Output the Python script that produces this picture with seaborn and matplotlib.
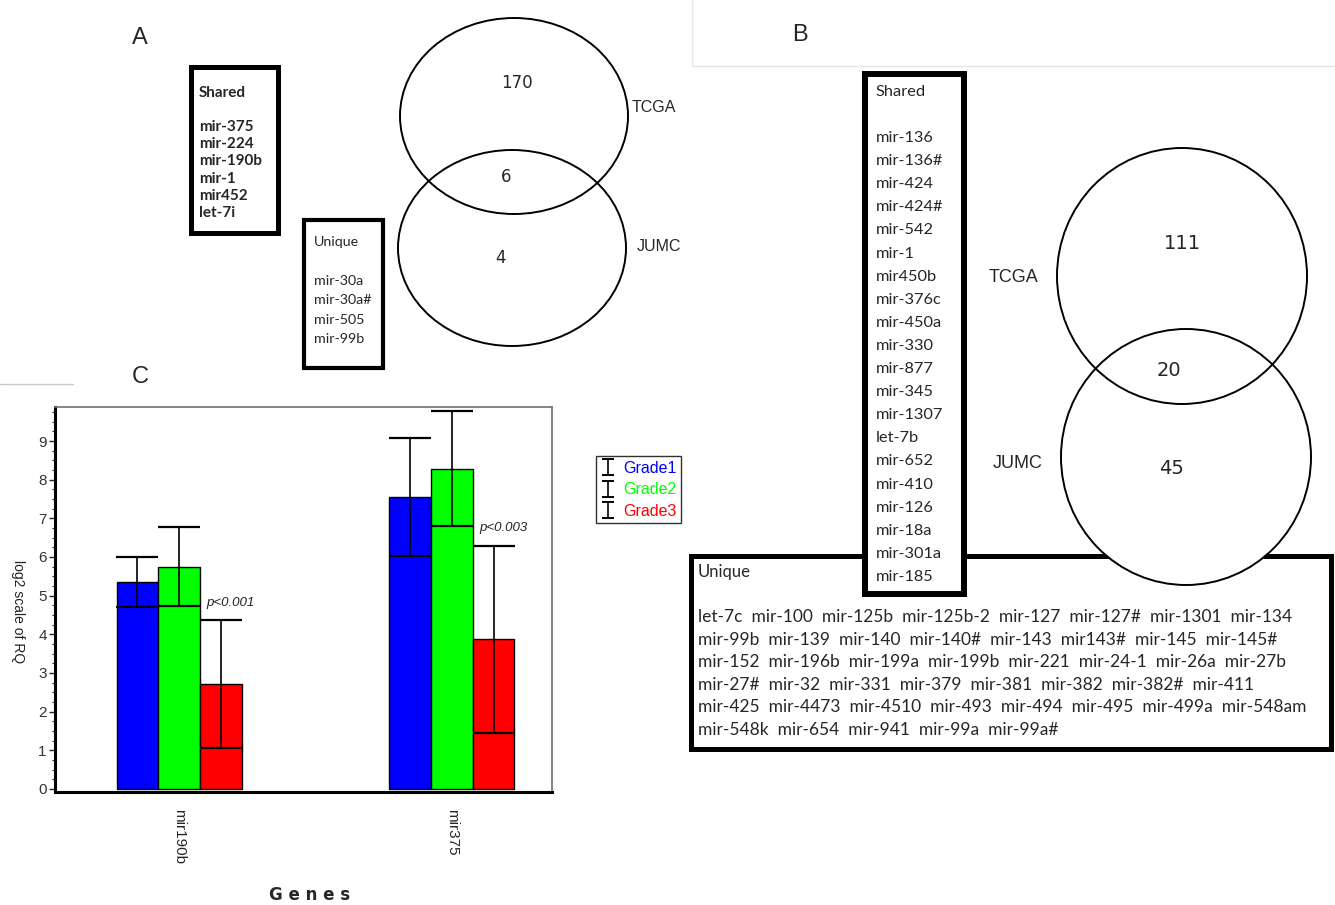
import numpy as np
import pandas as pd
import matplotlib
matplotlib.use('Agg')
import matplotlib.pyplot as plt
from matplotlib.patches import Ellipse, Rectangle
from matplotlib.ticker import MultipleLocator
import seaborn as sns

# panel C data
genes = ['mir190b', 'mir375']
grades = ['Grade1', 'Grade2', 'Grade3']
grade_colors = ['#0000ff', '#00ff00', '#ff0000']
grade1_mean = [5.35, 7.55]
grade2_mean = [5.75, 8.28]
grade3_mean = [2.72, 3.87]
grade1_err = [0.65, 1.53]
grade2_err = [1.02, 1.49]
grade3_err = [1.65, 2.42]
p_labels = ['p<0.001', 'p<0.003']

# venn counts: TCGA only, overlap, JUMC only
venn_a_counts = [170, 6, 4]
venn_b_counts = [111, 20, 45]
venn_sets = ['TCGA', 'JUMC']

shared_a = ['mir-375', 'mir-224', 'mir-190b', 'mir-1', 'mir452', 'let-7i']
unique_a = ['mir-30a', 'mir-30a#', 'mir-505', 'mir-99b']
shared_b = ['mir-136', 'mir-136#', 'mir-424', 'mir-424#', 'mir-542', 'mir-1',
            'mir450b', 'mir-376c', 'mir-450a', 'mir-330', 'mir-877', 'mir-345',
            'mir-1307', 'let-7b', 'mir-652', 'mir-410', 'mir-126', 'mir-18a',
            'mir-301a', 'mir-185']
unique_b = ['let-7c', 'mir-100', 'mir-125b', 'mir-125b-2', 'mir-127', 'mir-127#', 'mir-1301', 'mir-134',
            'mir-99b', 'mir-139', 'mir-140', 'mir-140#', 'mir-143', 'mir143#', 'mir-145', 'mir-145#',
            'mir-152', 'mir-196b', 'mir-199a', 'mir-199b', 'mir-221', 'mir-24-1', 'mir-26a', 'mir-27b',
            'mir-27#', 'mir-32', 'mir-331', 'mir-379', 'mir-381', 'mir-382', 'mir-382#', 'mir-411',
            'mir-425', 'mir-4473', 'mir-4510', 'mir-493', 'mir-494', 'mir-495', 'mir-499a', 'mir-548am',
            'mir-548k', 'mir-654', 'mir-941', 'mir-99a', 'mir-99a#']

sns.set_style('white')
plt.rcParams['font.family'] = ['Liberation Sans', 'DejaVu Sans']

W, H = 1335, 905
fig = plt.figure(figsize=(W / 100, H / 100), dpi=100)

# background axes in pixel coordinates for panels A and B
bg = fig.add_axes([0, 0, 1, 1])
bg.set_xlim(0, W)
bg.set_ylim(H, 0)
bg.axis('off')

list_font = 'Lato'


def box(x0, y0, x1, y1, lw, z=1):
    bg.add_patch(Rectangle((x0, y0), x1 - x0, y1 - y0, facecolor='white',
                           edgecolor='black', linewidth=lw, zorder=z))


def venn(c1, c2, rx, ry, lw=1.4):
    for c in (c1, c2):
        bg.add_patch(Ellipse(c, 2 * rx, 2 * ry, facecolor='white', edgecolor='none', zorder=2))
    for c in (c1, c2):
        bg.add_patch(Ellipse(c, 2 * rx, 2 * ry, facecolor='none', edgecolor='black',
                             linewidth=lw, zorder=3))


# faint frame lines
bg.plot([692, 692, W], [0, 66, 66], color='#e6e6e6', lw=1, zorder=0)
bg.plot([0, 73], [384, 384], color='#c8c8c8', lw=1, zorder=0)

# panel letters
bg.text(140, 38, 'A', fontsize=17, ha='center', va='center')
bg.text(800, 35, 'B', fontsize=17, ha='center', va='center')
bg.text(140, 377, 'C', fontsize=17, ha='center', va='center')

# ---- panel A ----
venn((514, 116), (512, 248), 114, 98)
bg.text(517, 83, str(venn_a_counts[0]), fontsize=12, family='DejaVu Sans', ha='center', va='center', zorder=4)
bg.text(506, 177, str(venn_a_counts[1]), fontsize=12, family='DejaVu Sans', ha='center', va='center', zorder=4)
bg.text(500, 258, str(venn_a_counts[2]), fontsize=12, family='DejaVu Sans', ha='center', va='center', zorder=4)
bg.text(632, 107, venn_sets[0], fontsize=11.5, ha='left', va='center')
bg.text(637, 246, venn_sets[1], fontsize=11.5, ha='left', va='center')

box(190.5, 67.5, 277.5, 233.5, 3.6)
bg.text(199, 93, 'Shared', family=list_font, fontweight='bold', fontsize=11, va='center')
for i, name in enumerate(shared_a):
    bg.text(199, 127 + i * 17.2, name, family=list_font, fontweight='bold', fontsize=11, va='center')

box(304, 220, 383, 368, 3.0)
bg.text(314, 242, 'Unique', family=list_font, fontsize=10.3, va='center')
for i, name in enumerate(unique_a):
    bg.text(314, 281 + i * 19.3, name, family=list_font, fontsize=10.3, va='center')

# ---- panel B ----
box(690.5, 555.5, 1330.5, 748.5, 3.6, z=1)
venn((1182, 276), (1186, 457), 125, 128)
bg.text(1182, 243, str(venn_b_counts[0]), fontsize=14, family='DejaVu Sans', ha='center', va='center', zorder=4)
bg.text(1169, 370, str(venn_b_counts[1]), fontsize=14, family='DejaVu Sans', ha='center', va='center', zorder=4)
bg.text(1172, 468, str(venn_b_counts[2]), fontsize=14, family='DejaVu Sans', ha='center', va='center', zorder=4)
bg.text(989, 277, venn_sets[0], fontsize=13, ha='left', va='center')
bg.text(993, 463, venn_sets[1], fontsize=13, ha='left', va='center')

box(864.5, 74.5, 963.5, 594, 4.3, z=5)
bg.text(876, 92, 'Shared', family=list_font, fontsize=11.8, va='center', zorder=6)
for i, name in enumerate(shared_b):
    bg.text(876, 138 + i * 23.1, name, family=list_font, fontsize=11.8, va='center', zorder=6)

bg.text(698, 572, 'Unique', family=list_font, fontsize=12, va='center', zorder=6)
for r in range(6):
    row = '  '.join(unique_b[r * 8:(r + 1) * 8])
    bg.text(698, 617 + r * 22.6, row, family=list_font, fontsize=12.5, va='center', zorder=6)

# ---- panel C ----
ax = fig.add_axes([55 / W, (H - 792) / H, (552 - 55) / W, (792 - 407) / H])
df = pd.DataFrame({
    'gene': genes * 3,
    'grade': np.repeat(grades, len(genes)),
    'value': grade1_mean + grade2_mean + grade3_mean,
})
sns.barplot(data=df, x='gene', y='value', hue='grade', hue_order=grades,
            palette=grade_colors, width=0.46, edgecolor='black', linewidth=1.0,
            saturation=1, errorbar=None, legend=False, ax=ax)

bars = sorted([p for p in ax.patches if p.get_height() > 0], key=lambda p: p.get_x())
means = [grade1_mean, grade2_mean, grade3_mean]
errs = [grade1_err, grade2_err, grade3_err]
xs, ys, es = [], [], []
for gi in range(len(genes)):
    for hi in range(len(grades)):
        b = bars[gi * 3 + hi]
        xs.append(b.get_x() + b.get_width() / 2)
        ys.append(means[hi][gi])
        es.append(errs[hi][gi])
ax.errorbar(xs, ys, yerr=es, fmt='none', ecolor='black', elinewidth=1.2,
            capsize=15, capthick=1.6, zorder=4)

for gi in range(len(genes)):
    k = gi * 3 + 2
    ax.text(xs[k] + 0.035, ys[k] + es[k] + 0.45, p_labels[gi], fontstyle='italic',
            fontsize=9.5, ha='center', va='center', color='#222222')

ax.set_xlim(-0.456, 1.368)
ax.set_ylim(-0.08, 9.88)
ax.set_yticks(range(10))
ax.yaxis.set_minor_locator(MultipleLocator(0.25))
ax.tick_params(axis='y', which='major', left=True, length=4, width=1, labelsize=11, labelcolor='#333333', pad=2)
ax.tick_params(axis='y', which='minor', left=True, length=2, width=0.8)
ax.tick_params(axis='x', length=0, labelsize=11, pad=12)
for lab in ax.get_xticklabels():
    lab.set_rotation(270)
    lab.set_va('top')
ax.set_xlabel('')
ax.set_ylabel('')
for s in ['left', 'bottom']:
    ax.spines[s].set_color('black')
    ax.spines[s].set_linewidth(2.2)
for s in ['top', 'right']:
    ax.spines[s].set_color('#707070')
    ax.spines[s].set_linewidth(1.2)

fig.text(18 / W, 1 - 612 / H, 'log2 scale of RQ', rotation=270, fontsize=10,
         ha='center', va='center', color='#222222')
fig.text(310 / W, 1 - 895 / H, 'G e n e s', fontsize=12, fontweight='bold',
         family='DejaVu Sans', ha='center', va='center')

# legend with errorbar proxies
handles = []
for g in grades:
    h = ax.errorbar([np.nan], [np.nan], yerr=[np.nan], fmt='none', ecolor='black',
                    elinewidth=1.2, capsize=4.5, capthick=1.4, label=g)
    handles.append(h)
leg = fig.legend(handles=handles, labels=grades, loc='upper left',
                 bbox_to_anchor=(596 / W, 1 - 456 / H), frameon=True, fancybox=False,
                 fontsize=11.5, handlelength=0.9, handletextpad=0.5, borderpad=0.3,
                 labelspacing=0.4, borderaxespad=0)
leg.get_frame().set_edgecolor('black')
leg.get_frame().set_linewidth(1.0)
for t, c in zip(leg.get_texts(), grade_colors):
    t.set_color(c)

fig.savefig('out.png', dpi=100)
